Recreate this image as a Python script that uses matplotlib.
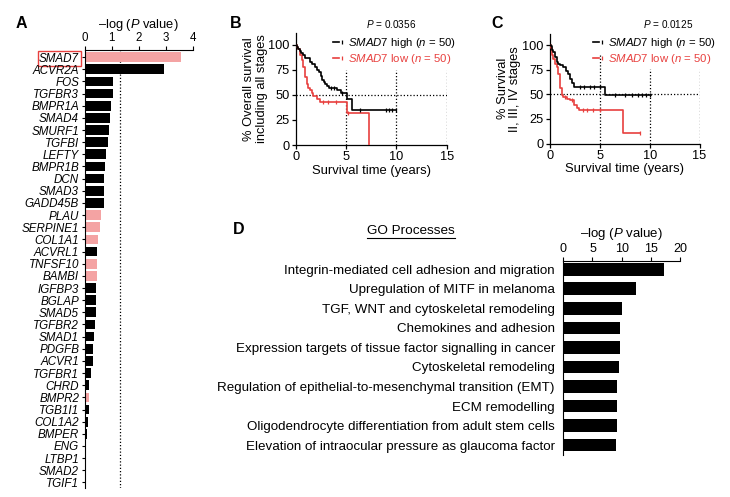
import matplotlib
matplotlib.use('Agg')
import matplotlib.pyplot as plt
from matplotlib.lines import Line2D
from matplotlib.legend_handler import HandlerTuple

plt.rcParams['font.family'] = ['Liberation Sans', 'DejaVu Sans']
plt.rcParams['mathtext.fontset'] = 'custom'
plt.rcParams['mathtext.rm'] = 'Liberation Sans'
plt.rcParams['mathtext.it'] = 'Liberation Sans:italic'
plt.rcParams['mathtext.bf'] = 'Liberation Sans:bold'

# ---------------- data ----------------
genes = ['SMAD7', 'ACVR2A', 'FOS', 'TGFBR3', 'BMPR1A', 'SMAD4', 'SMURF1', 'TGFBI',
         'LEFTY', 'BMPR1B', 'DCN', 'SMAD3', 'GADD45B', 'PLAU', 'SERPINE1', 'COL1A1',
         'ACVRL1', 'TNFSF10', 'BAMBI', 'IGFBP3', 'BGLAP', 'SMAD5', 'TGFBR2', 'SMAD1',
         'PDGFB', 'ACVR1', 'TGFBR1', 'CHRD', 'BMPR2', 'TGB1I1', 'COL1A2', 'BMPER',
         'ENG', 'LTBP1', 'SMAD2', 'TGIF1']
gene_vals = [3.57, 2.93, 1.04, 1.04, 0.98, 0.94, 0.89, 0.87,
             0.78, 0.75, 0.71, 0.70, 0.70, 0.60, 0.55, 0.49,
             0.47, 0.47, 0.47, 0.43, 0.43, 0.42, 0.37, 0.35,
             0.29, 0.29, 0.22, 0.17, 0.17, 0.15, 0.11, 0.07,
             0.05, 0.05, 0.02, 0.005]
pink_genes = ['SMAD7', 'PLAU', 'SERPINE1', 'COL1A1', 'TNFSF10', 'BAMBI', 'BMPR2']
p_threshold = 1.301

# Panel B (all stages)
b_high_t = [0, 0.1, 0.2, 0.35, 0.5, 0.65, 0.85, 1.4, 1.6, 1.9, 2.1, 2.27, 2.45, 2.6, 2.75, 2.93, 3.1, 3.27, 4.1, 4.43, 5.03, 5.53]
b_high_s = [100, 98, 96, 94, 92, 90, 87, 83, 81, 78, 75, 73, 69, 65, 63, 61, 59, 57, 55, 52, 46, 35]
b_high_end = 10.0
b_high_cens = [3.5, 3.8, 4.6, 6.4, 9.0, 9.3, 9.6, 10.0]
b_low_t = [0, 0.1, 0.23, 0.4, 0.56, 0.73, 0.9, 1.06, 1.22, 1.39, 1.55, 1.72, 2.05, 2.38, 5.05, 7.25]
b_low_s = [100, 98, 96, 90, 85, 78, 68, 61, 57, 55, 52, 49, 46, 43, 32, 0]
b_low_end = 7.25
b_low_cens = [2.7, 3.2, 4.0, 5.2]
b_p = '0.0356'

# Panel C (stages II, III, IV)
c_high_t = [0, 0.08, 0.17, 0.25, 0.34, 0.5, 0.67, 0.84, 1.0, 1.35, 1.6, 1.85, 2.0, 2.2, 2.36, 5.5]
c_high_s = [100, 99, 97, 95, 93, 88, 83, 81, 80, 78, 74, 71, 66, 62, 58, 49]
c_high_end = 10.15
c_high_cens = [3.0, 3.4, 4.0, 4.4, 5.0, 6.5, 7.5, 8.2, 8.8, 9.2, 9.6, 10.0]
c_low_t = [0, 0.08, 0.17, 0.25, 0.34, 0.5, 0.67, 0.84, 1.0, 1.18, 1.35, 1.68, 2.0, 2.36, 2.7, 2.86, 7.3]
c_low_s = [100, 97, 94, 90, 86, 81, 78, 71, 57, 49, 47, 45, 44, 39, 36, 34, 11]
c_low_end = 9.05
c_low_cens = [1.5, 2.2, 3.3, 3.7, 4.3, 5.0, 9.05]
c_p = '0.0125'

# Panel D
go_terms = ['Integrin-mediated cell adhesion and migration',
            'Upregulation of MITF in melanoma',
            'TGF, WNT and cytoskeletal remodeling',
            'Chemokines and adhesion',
            'Expression targets of tissue factor signalling in cancer',
            'Cytoskeletal remodeling',
            'Regulation of epithelial-to-mesenchymal transition (EMT)',
            'ECM remodelling',
            'Oligodendrocyte differentiation from adult stem cells',
            'Elevation of intraocular pressure as glaucoma factor']
go_vals = [17.3, 12.4, 10.1, 9.7, 9.65, 9.57, 9.28, 9.28, 9.17, 9.0]

# ---------------- style ----------------
PINK = '#F4A3A3'
RED = '#E8403E'
W, H = 730, 497
fig = plt.figure(figsize=(7.3, 4.97), dpi=100)


def rect(l, t, r, b):
    return [l / W, 1 - b / H, (r - l) / W, (b - t) / H]


def fx(x):
    return x / W


def fy(y):
    return 1 - y / H


DOT = (0, (1, 1.6))

# ---------------- Panel A ----------------
axA = fig.add_axes(rect(84.7, 50, 193, 488))
ypos = list(range(len(genes)))
colors = [PINK if g in pink_genes else 'black' for g in genes]
axA.barh(ypos, gene_vals, height=0.8, color=colors)
axA.axvline(p_threshold, color='black', ls=DOT, lw=0.9, zorder=0)
axA.set_ylim(len(genes) - 1 + 0.456, -0.584)
axA.set_xlim(0, 4)
axA.xaxis.tick_top()
axA.xaxis.set_label_position('top')
axA.set_xticks([0, 1, 2, 3, 4])
for s in ['bottom', 'right']:
    axA.spines[s].set_visible(False)
for s in ['top', 'left']:
    axA.spines[s].set_linewidth(0.8)
axA.set_yticks(ypos)
axA.set_yticklabels(genes, fontstyle='italic', fontsize=8.4)
axA.tick_params(axis='y', length=2.5, width=0.8, pad=1.5)
axA.tick_params(axis='x', length=3, width=0.8, pad=1.2, labelsize=8.3)
axA.set_xlabel('\u2013log ($\\mathit{P}$ value)', fontsize=9.3, labelpad=3)
axA.get_yticklabels()[0].set_bbox(dict(boxstyle='square,pad=0.12', fc='none', ec=RED, lw=1.0))


# ---------------- KM panels ----------------
def surv_at(ts, ss, c):
    val = ss[0]
    for t, s in zip(ts, ss):
        if t <= c:
            val = s
    return val


def km_panel(ax, ht, hs, hend, hc, lt, ls_, lend, lc, vtops):
    ax.set_xlim(0, 15)
    ax.set_ylim(0, 111.7)
    ax.hlines(50, 0, 15, colors='black', linestyles=DOT, lw=0.9, zorder=1)
    for xv, top in zip([5, 10, 15], vtops):
        ax.vlines(xv, 0, top, colors='black', linestyles=DOT, lw=0.9, zorder=1)
    rl, = ax.step(lt + [lend], ls_ + [ls_[-1]], where='post', color=RED, lw=1.2, zorder=3)
    rm, = ax.plot(lc, [surv_at(lt, ls_, c) for c in lc], ls='none', marker='|',
                  ms=3.5, mew=0.9, color=RED, zorder=3)
    hl, = ax.step(ht + [hend], hs + [hs[-1]], where='post', color='black', lw=1.2, zorder=4)
    hm, = ax.plot(hc, [surv_at(ht, hs, c) for c in hc], ls='none', marker='|',
                  ms=3.5, mew=0.9, color='black', zorder=4)
    ax.set_xticks([0, 5, 10, 15])
    ax.set_yticks([0, 25, 50, 75, 100])
    for s in ['top', 'right']:
        ax.spines[s].set_visible(False)
    for s in ['left', 'bottom']:
        ax.spines[s].set_linewidth(0.9)
    ax.tick_params(length=3, width=0.9, labelsize=9.2, pad=1.5)
    ax.set_xlabel('Survival time (years)', fontsize=9.4, labelpad=1)
    return (hl, hm), (rl, rm)


axB = fig.add_axes(rect(296, 33, 446.7, 145))
hB, lB = km_panel(axB, b_high_t, b_high_s, b_high_end, b_high_cens,
                  b_low_t, b_low_s, b_low_end, b_low_cens, [75, 75, 75])
axB.set_ylabel('% Overall survival\nincluding all stages', fontsize=9.3, labelpad=0.5, linespacing=1.05)

axC = fig.add_axes(rect(550, 34, 699.5, 143.5))
hC, lC = km_panel(axC, c_high_t, c_high_s, c_high_end, c_high_cens,
                  c_low_t, c_low_s, c_low_end, c_low_cens, [92, 76, 76])
axC.set_ylabel('% Survival\nII, III, IV stages', fontsize=9.3, labelpad=1, linespacing=1.05)


def add_legend(ax, hh, ll, x, y):
    leg = ax.legend([hh, ll], ['$\\mathit{SMAD7}$ high ($\\mathit{n}$ = 50)',
                               '$\\mathit{SMAD7}$ low ($\\mathit{n}$ = 50)'],
                    handler_map={tuple: HandlerTuple(ndivide=None, pad=0)},
                    loc='upper left', bbox_to_anchor=(fx(x), fy(y)),
                    bbox_transform=fig.transFigure, frameon=False, fontsize=8.2,
                    handlelength=1.05, handletextpad=0.3, borderpad=0, borderaxespad=0,
                    labelspacing=0.15)
    leg.get_texts()[1].set_color(RED)


add_legend(axB, hB, lB, 333, 36)
add_legend(axC, hC, lC, 593, 36)
fig.text(fx(391), fy(24.3), '$\\mathit{P}$ = ' + b_p, fontsize=7.2, ha='center', va='center')
fig.text(fx(668), fy(24.3), '$\\mathit{P}$ = ' + c_p, fontsize=7.2, ha='center', va='center')

# ---------------- Panel D ----------------
axD = fig.add_axes(rect(563.3, 261, 680, 455))
gpos = list(range(len(go_terms)))
axD.barh(gpos, go_vals, height=0.66, color='black')
axD.set_ylim(len(go_terms) - 1 + 0.51, -0.43)
axD.set_xlim(0, 20)
axD.xaxis.tick_top()
axD.xaxis.set_label_position('top')
axD.set_xticks([0, 5, 10, 15, 20])
for s in ['bottom', 'right']:
    axD.spines[s].set_visible(False)
for s in ['top', 'left']:
    axD.spines[s].set_linewidth(0.8)
axD.set_yticks(gpos)
axD.set_yticklabels(go_terms, fontsize=9.6)
axD.tick_params(axis='y', length=0, pad=6)
axD.tick_params(axis='x', length=3, width=0.8, pad=1.5, labelsize=9.0)
axD.set_xlabel('\u2013log ($\\mathit{P}$ value)', fontsize=9.5, labelpad=4.5)

go_title = fig.text(fx(411), fy(231), 'GO Processes', fontsize=9.7, ha='center', va='center')

# panel letters
for lab, (x, y) in zip(['A', 'B', 'C', 'D'], [(21, 23.5), (236, 23.5), (497.5, 23.5), (239, 230)]):
    fig.text(fx(x), fy(y), lab, fontsize=11.5, fontweight='bold', ha='center', va='center')

# underline GO Processes
fig.canvas.draw()
bb = go_title.get_window_extent().transformed(fig.transFigure.inverted())
fig.add_artist(Line2D([bb.x0, bb.x1], [bb.y0 - 0.002, bb.y0 - 0.002], color='black', lw=0.8,
                      transform=fig.transFigure))

fig.savefig('out.png', dpi=100)
